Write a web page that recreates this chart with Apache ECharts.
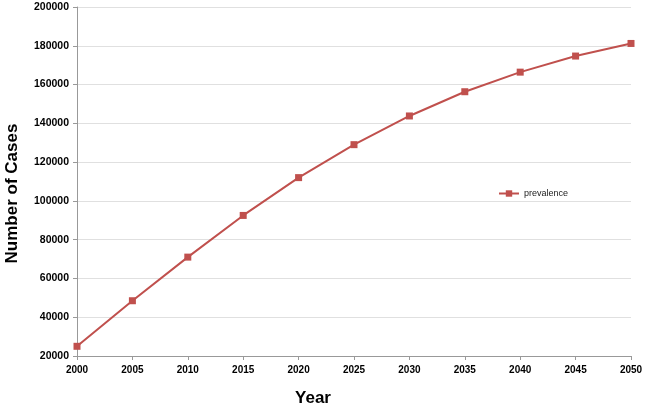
<!DOCTYPE html>
<html>
<head>
<meta charset="utf-8">
<script src="https://cdn.jsdelivr.net/npm/echarts@6/dist/echarts.min.js"></script>
<style>
  html, body { margin: 0; padding: 0; background: #fff; }
  #main { width: 647px; height: 408px; }
</style>
</head>
<body>
<div id="main"></div>
<script>
// data
const years = ['2000', '2005', '2010', '2015', '2020', '2025', '2030', '2035', '2040', '2045', '2050'];
const prevalence = [25000, 48500, 71000, 92500, 112000, 129000, 143800, 156300, 166400, 174700, 181200];

const chart = echarts.init(document.getElementById('main'));
const red = '#c0504d';
const font = 'Liberation Sans, Arial, sans-serif';

const option = {
  animation: false,
  grid: { left: 77, right: 16, top: 7, bottom: 52, outerBoundsMode: 'none' },
  legend: {
    data: ['prevalence'],
    left: 493, top: 184,
    itemWidth: 20, itemHeight: 8, itemGap: 4,
    textStyle: { fontSize: 9, fontFamily: font, color: '#222' }
  },
  xAxis: {
    type: 'category',
    data: years,
    boundaryGap: false,
    name: 'Year',
    nameLocation: 'middle',
    nameGap: 34,
    nameTextStyle: { fontSize: 17, fontWeight: 'bold', fontFamily: font, color: '#000', padding: [0, 82, 0, 0] },
    axisLine: { lineStyle: { color: '#999' } },
    axisTick: { length: 4, lineStyle: { color: '#999' } },
    axisLabel: { fontSize: 10, fontWeight: 'bold', fontFamily: font, color: '#000', margin: 9 },
    splitLine: { show: false }
  },
  yAxis: {
    type: 'value',
    min: 20000, max: 200000, interval: 20000,
    name: 'Number of Cases',
    nameLocation: 'middle',
    nameGap: 56,
    nameTextStyle: { fontSize: 17, fontWeight: 'bold', fontFamily: font, color: '#000', padding: [0, 24, 0, 0] },
    axisLine: { show: true, lineStyle: { color: '#999' } },
    axisTick: { show: true, length: 4, lineStyle: { color: '#999' } },
    axisLabel: { fontSize: 10.5, fontWeight: 'bold', fontFamily: font, color: '#000', margin: 8, formatter: v => String(v) },
    splitLine: { lineStyle: { color: '#e0e0e0' } }
  },
  series: [{
    name: 'prevalence',
    type: 'line',
    data: prevalence,
    symbol: 'rect',
    symbolSize: 7,
    lineStyle: { color: red, width: 2 },
    itemStyle: { color: red }
  }]
};
chart.setOption(option);
</script>
</body>
</html>
